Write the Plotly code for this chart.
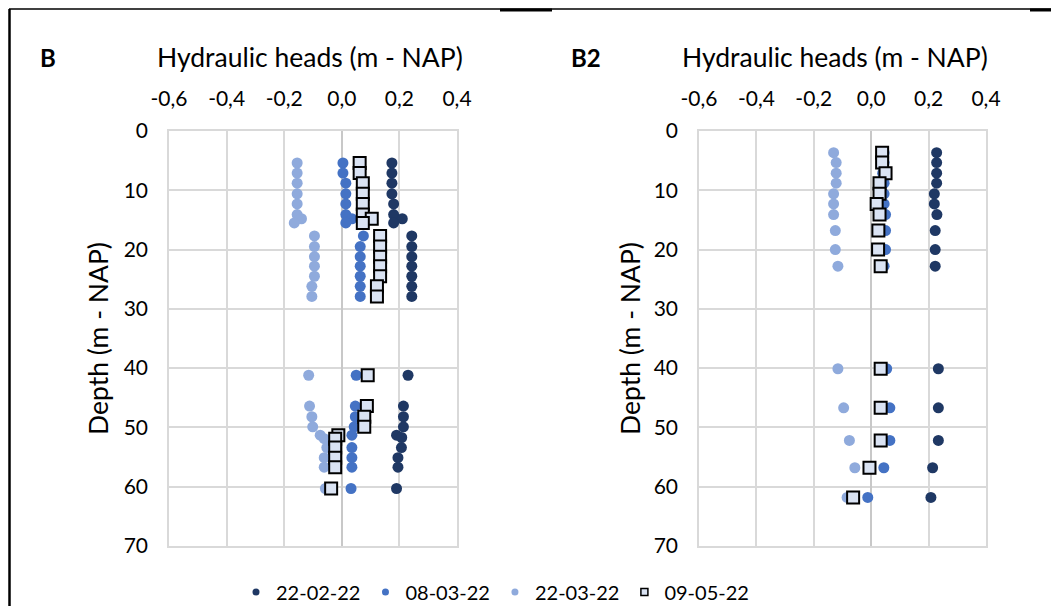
import plotly.graph_objects as go

# page has an 8px body margin: draw the figure 16px smaller and shift coordinates
OFF = 8
W, H = 1059 - 2 * OFF, 614 - 2 * OFF

# ---------------- data ----------------
series_names = ["22-02-22", "08-03-22", "22-03-22", "09-05-22"]
x_tick_vals = [-0.6, -0.4, -0.2, 0.0, 0.2, 0.4]
x_tick_text = ["-0,6", "-0,4", "-0,2", "0,0", "0,2", "0,4"]
y_tick_vals = [0, 10, 20, 30, 40, 50, 60, 70]

# Panel B
b_depth_dark = [5.4, 7.1, 8.8, 10.6, 12.3, 14.1, 14.8, 15.5, 17.7, 19.5, 21.2, 22.8, 24.5, 26.2, 27.9,
                41.2, 46.4, 48.2, 49.9, 51.3, 51.7, 53.4, 55.1, 56.7, 60.3]
b_head_dark = [0.174, 0.174, 0.174, 0.174, 0.18, 0.18, 0.21, 0.18, 0.243, 0.243, 0.243, 0.243, 0.243, 0.243, 0.243,
               0.23, 0.214, 0.214, 0.214, 0.19, 0.208, 0.207, 0.195, 0.195, 0.19]
b_depth_mid = [5.4, 7.1, 8.8, 10.6, 12.3, 14.1, 14.8, 15.5, 17.7, 19.5, 21.2, 22.8, 24.5, 26.2, 27.9,
               41.2, 46.4, 48.2, 49.9, 51.3, 53.4, 55.1, 56.7, 60.3]
b_head_mid = [0.004, 0.004, 0.014, 0.014, 0.014, 0.014, 0.035, 0.014, 0.075, 0.064, 0.064, 0.064, 0.064, 0.064, 0.064,
              0.05, 0.047, 0.047, 0.043, 0.035, 0.035, 0.035, 0.035, 0.032]
b_depth_light = [5.4, 7.1, 8.8, 10.6, 12.3, 14.1, 14.8, 15.5, 17.7, 19.5, 21.2, 22.8, 24.5, 26.2, 27.9,
                 41.2, 46.4, 48.2, 49.9, 51.3, 51.9, 53.4, 55.1, 56.7, 60.3]
b_head_light = [-0.155, -0.155, -0.155, -0.155, -0.155, -0.155, -0.14, -0.165, -0.095, -0.095, -0.095, -0.095, -0.095,
                -0.104, -0.104, -0.115, -0.112, -0.104, -0.101, -0.075, -0.061, -0.052, -0.061, -0.061, -0.057]
b_depth_sq = [5.4, 7.1, 8.8, 10.6, 12.3, 14.1, 14.8, 15.5, 17.7, 19.5, 21.2, 22.8, 24.5, 26.2, 27.9,
              41.2, 46.4, 48.2, 49.9, 51.3, 51.9, 53.4, 55.1, 56.7, 60.3]
b_head_sq = [0.062, 0.062, 0.073, 0.073, 0.073, 0.073, 0.104, 0.073, 0.133, 0.133, 0.133, 0.133, 0.133, 0.122, 0.122,
             0.09, 0.087, 0.078, 0.078, -0.012, -0.023, -0.023, -0.023, -0.023, -0.037]

# Panel B2
b2_depth = [3.65, 5.33, 7.12, 8.8, 10.6, 12.3, 14.1, 16.8, 20.0, 22.8, 40.1, 46.7, 52.2, 56.8, 61.8]
b2_head_dark = [0.228, 0.228, 0.228, 0.228, 0.22, 0.22, 0.229, 0.223, 0.223, 0.223, 0.234, 0.234, 0.234, 0.214, 0.208]
b2_head_mid = [0.045, 0.045, 0.04, 0.045, 0.045, 0.045, 0.05, 0.05, 0.05, 0.045, 0.054, 0.065, 0.065, 0.044, -0.012]
b2_head_light = [-0.131, -0.122, -0.122, -0.122, -0.131, -0.131, -0.131, -0.125, -0.125, -0.116, -0.116, -0.096,
                 -0.076, -0.057, -0.084]
b2_head_sq = [0.038, 0.038, 0.05, 0.029, 0.029, 0.019, 0.029, 0.025, 0.024, 0.033, 0.033, 0.033, 0.033, -0.006, -0.063]

# ---------------- styling ----------------
FONT = "Lato"
C_DARK = "#1f3864"
C_MID = "#4472c4"
C_LIGHT = "#8faadc"
C_SQ = "#dae3f3"
GRID = "#d9d9d9"


def circle(color, size=11):
    return dict(symbol="circle", size=size, color=color, line=dict(width=0))


def square(size=12):
    return dict(symbol="square", size=size, color=C_SQ, line=dict(width=2, color="#000000"))


fig = go.Figure()

panels = [
    ("x", "y", b_head_dark, b_depth_dark, b_head_mid, b_depth_mid, b_head_light, b_depth_light, b_head_sq, b_depth_sq),
    ("x2", "y2", b2_head_dark, b2_depth, b2_head_mid, b2_depth, b2_head_light, b2_depth, b2_head_sq, b2_depth),
]
for xa, ya, hd, dd, hm, dm, hl, dl, hs, ds in panels:
    fig.add_trace(go.Scatter(x=hd, y=dd, mode="markers", marker=circle(C_DARK), xaxis=xa, yaxis=ya,
                             name=series_names[0], showlegend=False))
    fig.add_trace(go.Scatter(x=hm, y=dm, mode="markers", marker=circle(C_MID), xaxis=xa, yaxis=ya,
                             name=series_names[1], showlegend=False))
    fig.add_trace(go.Scatter(x=hl, y=dl, mode="markers", marker=circle(C_LIGHT), xaxis=xa, yaxis=ya,
                             name=series_names[2], showlegend=False))
    fig.add_trace(go.Scatter(x=hs, y=ds, mode="markers", marker=square(), xaxis=xa, yaxis=ya,
                             name=series_names[3], showlegend=False))

# legend-only entries (small symbols as in the reference)
leg_markers = [circle(C_DARK, 7), circle(C_MID, 7), circle(C_LIGHT, 7),
               dict(symbol="square", size=7, color=C_SQ, line=dict(width=1.5, color="#000000"))]
for nm, mk in zip(series_names, leg_markers):
    fig.add_trace(go.Scatter(x=[None], y=[None], mode="markers", marker=mk, name=nm, showlegend=True))


def px_x(p):
    return (p - OFF) / W


def px_y(p):
    return 1 - (p - OFF) / H


xaxis_common = dict(range=[-0.6, 0.4], tickvals=x_tick_vals, ticktext=x_tick_text, side="top",
                    showgrid=True, gridcolor=GRID, gridwidth=1.5, zeroline=True, zerolinecolor="#c8c8c8",
                    zerolinewidth=1.5, showline=True, linecolor=GRID, linewidth=1.5, mirror=True,
                    ticks="outside", ticklen=15, tickcolor="rgba(0,0,0,0)", automargin=False, fixedrange=True,
                    tickfont=dict(family=FONT, size=21, color="#000000"))
yaxis_common = dict(range=[70, 0], tickvals=y_tick_vals, showgrid=True, gridcolor=GRID, gridwidth=1.5,
                    zeroline=False, showline=True, linecolor=GRID, linewidth=1.5, mirror=True,
                    ticks="outside", ticklen=15, tickcolor="rgba(0,0,0,0)", automargin=False, fixedrange=True,
                    tickfont=dict(family=FONT, size=21, color="#000000"))

y_dom = [px_y(546), px_y(131)]
fig.update_layout(
    width=W, height=H, autosize=False,
    margin=dict(l=0, r=0, t=0, b=0, pad=0, autoexpand=False),
    paper_bgcolor="white", plot_bgcolor="white",
    font=dict(family=FONT, color="#000000"),
    xaxis=dict(domain=[px_x(169), px_x(457)], anchor="y", **xaxis_common),
    yaxis=dict(domain=y_dom, anchor="x", **yaxis_common),
    xaxis2=dict(domain=[px_x(699), px_x(986)], anchor="y2", **xaxis_common),
    yaxis2=dict(domain=y_dom, anchor="x2", **yaxis_common),
    legend=dict(orientation="h", x=px_x(236), xanchor="left", y=px_y(592), yanchor="middle",
                font=dict(family=FONT, size=20, color="#000000"), itemwidth=30,
                tracegroupgap=0, bgcolor="rgba(0,0,0,0)"),
    showlegend=True,
)

ann = [
    dict(text="Hydraulic heads (m - NAP)", x=px_x(310), y=px_y(57), size=26.5, angle=0),
    dict(text="Hydraulic heads (m - NAP)", x=px_x(835), y=px_y(57), size=26.5, angle=0),
    dict(text="Depth (m - NAP)", x=px_x(98), y=px_y(339), size=26.5, angle=-90),
    dict(text="Depth (m - NAP)", x=px_x(630), y=px_y(339), size=26.5, angle=-90),
    dict(text="<b>B</b>", x=px_x(48), y=px_y(57), size=24, angle=0),
    dict(text="<b>B2</b>", x=px_x(586), y=px_y(57), size=24, angle=0),
]
for a in ann:
    fig.add_annotation(text=a["text"], x=a["x"], y=a["y"], xref="paper", yref="paper",
                       xanchor="center", yanchor="middle", showarrow=False, textangle=a["angle"],
                       font=dict(family=FONT, size=a["size"], color="#000000"))

# frame lines of the original figure panel
frame = [
    (9.5, 9, 9.5, 614, 2.5),
    (9, 9, 1059, 9, 1.5),
    (500, 10, 552, 10, 3),
    (1030, 10, 1059, 10, 3),
]
for x0, y0, x1, y1, w in frame:
    fig.add_shape(type="line", xref="paper", yref="paper", x0=px_x(x0), y0=px_y(y0), x1=px_x(x1), y1=px_y(y1),
                  line=dict(color="#000000", width=w))

fig.write_html("out.html")
